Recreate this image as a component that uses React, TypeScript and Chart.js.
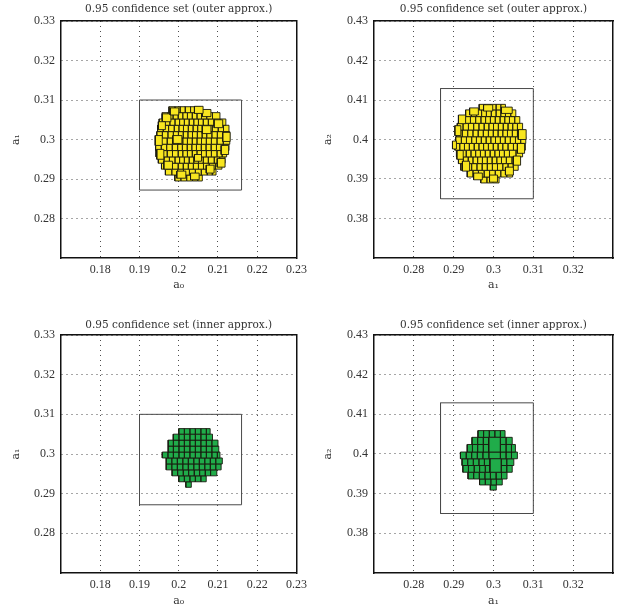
import React, { useEffect, useRef } from 'react';
import { Chart, registerables } from 'chart.js';
Chart.register(...registerables);

// ---- axes ----
const a0Range = [0.17, 0.23];
const a1Range = [0.27, 0.33];
const a2Range = [0.37, 0.43];
const a0Ticks = [0.18, 0.19, 0.2, 0.21, 0.22, 0.23];
const a1TicksY = [0.28, 0.29, 0.3, 0.31, 0.32, 0.33];
const a1TicksX = [0.28, 0.29, 0.3, 0.31, 0.32];
const a2Ticks = [0.38, 0.39, 0.4, 0.41, 0.42, 0.43];

// ---- enclosing rectangles [x0, x1, y0, y1] ----
const frameA0A1 = [0.19, 0.216, 0.2872, 0.31];
const frameA1A2 = [0.2867, 0.31, 0.385, 0.4129];

// ---- rows: [y0, y1, x-edges...] ----
const outerA0A1Rows: number[][] = [
  [0.3068, 0.3083, 0.1975, 0.1990, 0.2003, 0.2016, 0.2030, 0.2043, 0.2056],
  [0.3052, 0.3068, 0.1958, 0.1972, 0.1985, 0.1998, 0.2010, 0.2022, 0.2034, 0.2046, 0.2058, 0.2071, 0.2086, 0.2105],
  [0.3036, 0.3052, 0.1950, 0.1964, 0.1977, 0.1990, 0.2002, 0.2014, 0.2026, 0.2038, 0.2050, 0.2062, 0.2075, 0.2090, 0.2105, 0.2120],
  [0.3020, 0.3036, 0.1946, 0.1960, 0.1974, 0.1988, 0.2000, 0.2012, 0.2024, 0.2036, 0.2048, 0.2060, 0.2072, 0.2085, 0.2100, 0.2114, 0.2128],
  [0.3004, 0.3020, 0.1944, 0.1958, 0.1972, 0.1986, 0.1999, 0.2011, 0.2023, 0.2035, 0.2047, 0.2059, 0.2071, 0.2084, 0.2098, 0.2114, 0.2130],
  [0.2988, 0.3004, 0.1941, 0.1956, 0.1970, 0.1984, 0.1998, 0.2010, 0.2022, 0.2034, 0.2046, 0.2058, 0.2070, 0.2083, 0.2097, 0.2113, 0.2130],
  [0.2972, 0.2988, 0.1941, 0.1955, 0.1969, 0.1983, 0.1997, 0.2009, 0.2021, 0.2033, 0.2045, 0.2057, 0.2069, 0.2082, 0.2096, 0.2112, 0.2128],
  [0.2956, 0.2972, 0.1942, 0.1956, 0.1970, 0.1984, 0.1998, 0.2010, 0.2022, 0.2034, 0.2046, 0.2058, 0.2070, 0.2083, 0.2097, 0.2110, 0.2122],
  [0.2940, 0.2956, 0.1948, 0.1962, 0.1976, 0.1990, 0.2002, 0.2014, 0.2026, 0.2038, 0.2050, 0.2062, 0.2075, 0.2090, 0.2104, 0.2118],
  [0.2925, 0.2940, 0.1956, 0.1970, 0.1984, 0.1998, 0.2011, 0.2024, 0.2037, 0.2050, 0.2063, 0.2077, 0.2093, 0.2110],
  [0.2910, 0.2925, 0.1966, 0.1982, 0.1997, 0.2012, 0.2027, 0.2042, 0.2057, 0.2072, 0.2085, 0.2095],
  [0.2895, 0.2910, 0.1990, 0.2005, 0.2020, 0.2035, 0.2048, 0.2060],
];
const outerA0A1Extra: number[][] = [
  [0.1978, 0.2000, 0.3062, 0.3080], [0.2040, 0.2062, 0.3066, 0.3084], [0.2060, 0.2082, 0.3058, 0.3076],
  [0.2090, 0.2112, 0.3030, 0.3050], [0.2112, 0.2131, 0.2995, 0.3018], [0.2108, 0.2127, 0.2962, 0.2985],
  [0.2098, 0.2118, 0.2930, 0.2952], [0.2070, 0.2090, 0.2915, 0.2935], [0.2030, 0.2052, 0.2898, 0.2915],
  [0.1995, 0.2018, 0.2902, 0.2920], [0.1962, 0.1984, 0.2925, 0.2945], [0.1944, 0.1962, 0.2950, 0.2975],
  [0.1940, 0.1958, 0.2985, 0.3010], [0.1948, 0.1966, 0.3025, 0.3045], [0.1958, 0.1980, 0.3045, 0.3065],
  [0.1985, 0.2008, 0.2990, 0.3010], [0.2060, 0.2082, 0.3015, 0.3035], [0.2040, 0.2058, 0.2945, 0.2962],
];

const outerA1A2Rows: number[][] = [
  [0.4075, 0.4089, 0.2964, 0.2978, 0.2992, 0.3006, 0.3018, 0.3030],
  [0.4058, 0.4075, 0.2930, 0.2944, 0.2957, 0.2970, 0.2982, 0.2994, 0.3006, 0.3018, 0.3030, 0.3043, 0.3056],
  [0.4041, 0.4058, 0.2915, 0.2929, 0.2942, 0.2955, 0.2968, 0.2980, 0.2992, 0.3004, 0.3016, 0.3028, 0.3040, 0.3053, 0.3066],
  [0.4024, 0.4041, 0.2909, 0.2923, 0.2937, 0.2950, 0.2963, 0.2976, 0.2988, 0.3000, 0.3012, 0.3024, 0.3036, 0.3048, 0.3060, 0.3073],
  [0.4007, 0.4024, 0.2907, 0.2921, 0.2935, 0.2948, 0.2961, 0.2974, 0.2987, 0.2999, 0.3011, 0.3023, 0.3035, 0.3047, 0.3060, 0.3078],
  [0.3990, 0.4007, 0.2905, 0.2919, 0.2932, 0.2945, 0.2957, 0.2969, 0.2981, 0.2993, 0.3005, 0.3017, 0.3029, 0.3042, 0.3055, 0.3068, 0.3081],
  [0.3973, 0.3990, 0.2903, 0.2915, 0.2927, 0.2939, 0.2951, 0.2963, 0.2975, 0.2987, 0.2999, 0.3011, 0.3023, 0.3036, 0.3050, 0.3065, 0.3080],
  [0.3956, 0.3973, 0.2907, 0.2919, 0.2931, 0.2943, 0.2955, 0.2967, 0.2979, 0.2991, 0.3003, 0.3015, 0.3027, 0.3040, 0.3056, 0.3073],
  [0.3939, 0.3956, 0.2912, 0.2924, 0.2936, 0.2948, 0.2960, 0.2972, 0.2984, 0.2996, 0.3008, 0.3020, 0.3032, 0.3046, 0.3066],
  [0.3922, 0.3939, 0.2918, 0.2932, 0.2945, 0.2958, 0.2971, 0.2984, 0.2997, 0.3010, 0.3023, 0.3036, 0.3049, 0.3062],
  [0.3905, 0.3922, 0.2934, 0.2948, 0.2962, 0.2976, 0.2990, 0.3004, 0.3018, 0.3033, 0.3048],
  [0.3890, 0.3905, 0.2968, 0.2983, 0.2998, 0.3014],
];
const outerA1A2Extra: number[][] = [
  [0.2897, 0.2907, 0.3976, 0.3996], [0.2975, 0.2998, 0.4072, 0.4088], [0.3020, 0.3047, 0.4066, 0.4082],
  [0.2940, 0.2962, 0.4062, 0.4080], [0.2912, 0.2930, 0.4040, 0.4062], [0.2903, 0.2918, 0.4010, 0.4035],
  [0.3062, 0.3082, 0.4000, 0.4025], [0.3060, 0.3078, 0.3965, 0.3990], [0.3050, 0.3068, 0.3935, 0.3958],
  [0.3030, 0.3050, 0.3910, 0.3930], [0.2990, 0.3010, 0.3892, 0.3910], [0.2950, 0.2972, 0.3898, 0.3915],
  [0.2922, 0.2940, 0.3920, 0.3945], [0.2908, 0.2924, 0.3950, 0.3972],
];

const innerA0A1Rows: number[][] = [
  [0.3050, 0.3064, 0.2000, 0.2014, 0.2028, 0.2042, 0.2056, 0.2070, 0.2080],
  [0.3035, 0.3050, 0.1986, 0.2000, 0.2014, 0.2028, 0.2042, 0.2056, 0.2070, 0.2086],
  [0.3020, 0.3035, 0.1973, 0.1986, 0.2000, 0.2014, 0.2028, 0.2042, 0.2056, 0.2070, 0.2084, 0.2100],
  [0.3005, 0.3020, 0.1973, 0.1986, 0.2000, 0.2014, 0.2028, 0.2042, 0.2056, 0.2070, 0.2084, 0.2102],
  [0.2990, 0.3005, 0.1958, 0.1972, 0.1986, 0.2000, 0.2014, 0.2028, 0.2042, 0.2056, 0.2070, 0.2084, 0.2098, 0.2105],
  [0.2975, 0.2990, 0.1968, 0.1982, 0.1996, 0.2010, 0.2024, 0.2038, 0.2052, 0.2066, 0.2080, 0.2094, 0.2111],
  [0.2960, 0.2975, 0.1968, 0.1982, 0.1996, 0.2010, 0.2024, 0.2038, 0.2052, 0.2066, 0.2080, 0.2094, 0.2108],
  [0.2945, 0.2960, 0.1983, 0.1997, 0.2011, 0.2025, 0.2039, 0.2053, 0.2067, 0.2081, 0.2097],
  [0.2930, 0.2945, 0.2000, 0.2014, 0.2028, 0.2042, 0.2056, 0.2070],
  [0.2916, 0.2930, 0.2018, 0.2032],
];
const innerA0A1Extra: number[][] = [];

const innerA1A2Rows: number[][] = [
  [0.4042, 0.4059, 0.2961, 0.2975, 0.2989, 0.3003, 0.3017, 0.3029],
  [0.4024, 0.4042, 0.2946, 0.2960, 0.2974, 0.2988],
  [0.4024, 0.4042, 0.3017, 0.3031, 0.3047],
  [0.4005, 0.4024, 0.2934, 0.2947, 0.2960, 0.2974, 0.2988],
  [0.4005, 0.4024, 0.3017, 0.3031, 0.3045, 0.3055],
  [0.3988, 0.4005, 0.2917, 0.2931, 0.2945, 0.2959, 0.2973, 0.2988, 0.3017, 0.3031, 0.3045, 0.3060],
  [0.3971, 0.3988, 0.2921, 0.2935, 0.2949, 0.2963, 0.2977, 0.2991],
  [0.3971, 0.3988, 0.3019, 0.3033, 0.3051],
  [0.3954, 0.3971, 0.2923, 0.2937, 0.2951, 0.2965, 0.2979, 0.2991],
  [0.3954, 0.3971, 0.3019, 0.3033, 0.3047],
  [0.3937, 0.3954, 0.2936, 0.2950, 0.2964, 0.2978, 0.2992, 0.3006, 0.3020, 0.3034],
  [0.3922, 0.3937, 0.2965, 0.2979, 0.2993, 0.3007, 0.3022],
  [0.3909, 0.3922, 0.2992, 0.3007],
];
const innerA1A2Extra: number[][] = [
  [0.2988, 0.3017, 0.4005, 0.4042],
  [0.2991, 0.3019, 0.3954, 0.3988],
];

const YELLOW = 'rgb(248,230,32)';
const GREEN = 'rgb(32,172,74)';

function rowsToBoxes(rows: number[][]): number[][] {
  const out: number[][] = [];
  rows.forEach((r) => {
    for (let i = 2; i < r.length - 1; i++) out.push([r[i], r[i + 1], r[0], r[1]]);
  });
  return out;
}

function rectPoints(b: number[]) {
  return [
    { x: b[0], y: b[2] }, { x: b[1], y: b[2] }, { x: b[1], y: b[3] },
    { x: b[0], y: b[3] }, { x: b[0], y: b[2] },
  ];
}

const fmt = (v: any) => String(Number(Number(v).toFixed(2)));

type PanelProps = {
  left: number; top: number; w: number; h: number;
  title: string; titleTop: number; topH: number;
  xLabel: string; yLabel: string;
  xRange: number[]; yRange: number[];
  xTicks: number[]; yTicks: number[];
  rows: number[][]; extra: number[][]; frame: number[]; color: string;
  yAxisW: number; padRight: number; xAxisH: number; xTitlePad: number;
};

function Panel(p: PanelProps) {
  const ref = useRef<HTMLCanvasElement>(null);
  useEffect(() => {
    const boxes = [...p.extra, ...rowsToBoxes(p.rows)];
    const datasets: any[] = [
      {
        data: rectPoints(p.frame), borderColor: '#4a4a4a', borderWidth: 1, fill: false,
        pointRadius: 0, tension: 0, xAxisID: 'x', yAxisID: 'y',
      },
      ...boxes.map((b) => ({
        data: rectPoints(b), borderColor: 'rgba(25,25,15,0.9)', borderWidth: 1,
        backgroundColor: p.color, fill: 'shape', pointRadius: 0, tension: 0,
        xAxisID: 'x', yAxisID: 'y', borderJoinStyle: 'miter',
      })),
    ];
    const tickFont = { family: 'Liberation Serif', size: 12 };
    const labelFont = { family: 'DejaVu Serif', size: 11 };
    const gridStyle = { color: 'rgba(0,0,0,0.7)', lineWidth: 1, drawTicks: false, tickLength: 0 };
    const borderStyle = { display: true, color: '#111', width: 1.5, dash: [1, 4] };
    const chart = new Chart(ref.current!, {
      type: 'line',
      data: { datasets },
      options: {
        responsive: false,
        animation: false,
        devicePixelRatio: 1,
        events: [],
        layout: { padding: { left: 0, right: p.padRight, top: 0, bottom: 0 } },
        plugins: {
          legend: { display: false },
          tooltip: { enabled: false },
          title: { display: false },
        },
        scales: {
          x: {
            type: 'linear', position: 'bottom', min: p.xRange[0], max: p.xRange[1],
            afterBuildTicks: (s: any) => { s.ticks = p.xTicks.map((v) => ({ value: v })); },
            afterFit: (s: any) => { s.height = p.xAxisH; },
            grid: gridStyle,
            border: borderStyle,
            ticks: { callback: fmt, font: tickFont, color: '#333', padding: 5, maxRotation: 0, autoSkip: false },
            title: { display: true, text: p.xLabel, font: labelFont, color: '#333', padding: { top: 0, bottom: p.xTitlePad } },
          },
          y: {
            type: 'linear', position: 'left', min: p.yRange[0], max: p.yRange[1],
            afterBuildTicks: (s: any) => { s.ticks = p.yTicks.map((v) => ({ value: v })); },
            afterFit: (s: any) => { s.width = p.yAxisW; },
            grid: gridStyle,
            border: borderStyle,
            ticks: { callback: fmt, font: tickFont, color: '#333', padding: 6, autoSkip: false },
            title: { display: true, text: p.yLabel, font: labelFont, color: '#333', padding: { top: 10, bottom: 0 } },
          },
          x2: {
            type: 'linear', position: 'top', min: p.xRange[0], max: p.xRange[1],
            grid: { display: false, drawTicks: false }, ticks: { display: false },
            border: { display: true, color: '#111', width: 1.5 },
            title: {
              display: true, text: p.title, color: '#333',
              font: { family: 'DejaVu Serif', size: 10.5, weight: 'normal' },
              padding: { top: p.titleTop, bottom: 0 },
            },
            afterFit: (s: any) => { s.height = p.topH; },
          },
          y2: {
            type: 'linear', position: 'right', min: p.yRange[0], max: p.yRange[1],
            grid: { display: false, drawTicks: false }, ticks: { display: false },
            border: { display: true, color: '#111', width: 1.5 },
            afterFit: (s: any) => { s.width = 0; },
          },
        },
      } as any,
    });
    return () => chart.destroy();
  }, []);
  return (
    <canvas
      ref={ref}
      width={p.w}
      height={p.h}
      style={{ position: 'absolute', left: p.left, top: p.top, width: p.w, height: p.h }}
    />
  );
}

export default function App() {
  const common = { w: 312, h: 300 };
  return (
    <div style={{ position: 'absolute', left: 0, top: 0, width: 624, height: 614, background: '#fff' }}>
      <Panel {...common} left={0} top={0} title="0.95 confidence set (outer approx.)" titleTop={2.7} topH={21}
        xLabel="a₀" yLabel="a₁" xRange={a0Range} yRange={a1Range} xTicks={a0Ticks} yTicks={a1TicksY}
        rows={outerA0A1Rows} extra={outerA0A1Extra} frame={frameA0A1} color={YELLOW}
        yAxisW={61} padRight={13} xAxisH={42} xTitlePad={8.5} />
      <Panel {...common} left={312} top={0} title="0.95 confidence set (outer approx.)" titleTop={2.7} topH={21}
        xLabel="a₁" yLabel="a₂" xRange={a1Range} yRange={a2Range} xTicks={a1TicksX} yTicks={a2Ticks}
        rows={outerA1A2Rows} extra={outerA1A2Extra} frame={frameA1A2} color={YELLOW}
        yAxisW={62} padRight={11} xAxisH={42} xTitlePad={8.5} />
      <Panel {...common} left={0} top={314} title="0.95 confidence set (inner approx.)" titleTop={4.7} topH={21}
        xLabel="a₀" yLabel="a₁" xRange={a0Range} yRange={a1Range} xTicks={a0Ticks} yTicks={a1TicksY}
        rows={innerA0A1Rows} extra={innerA0A1Extra} frame={frameA0A1} color={GREEN}
        yAxisW={61} padRight={13} xAxisH={41} xTitlePad={6.5} />
      <Panel {...common} left={312} top={314} title="0.95 confidence set (inner approx.)" titleTop={4.7} topH={21}
        xLabel="a₁" yLabel="a₂" xRange={a1Range} yRange={a2Range} xTicks={a1TicksX} yTicks={a2Ticks}
        rows={innerA1A2Rows} extra={innerA1A2Extra} frame={frameA1A2} color={GREEN}
        yAxisW={62} padRight={11} xAxisH={41} xTitlePad={6.5} />
    </div>
  );
}
